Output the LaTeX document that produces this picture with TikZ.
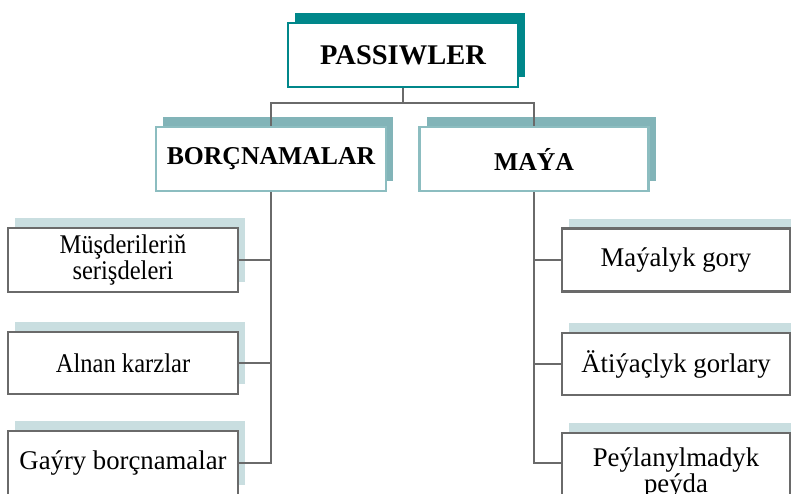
\documentclass[tikz,border=0pt]{standalone}
\usepackage{fontspec}
\setmainfont{Liberation Serif}
\newfontfamily\leaffont[FakeStretch=0.91]{Liberation Serif}
\newfontfamily\leafwide[FakeStretch=0.99]{Liberation Serif}
\usetikzlibrary{shadows}
\definecolor{tealdark}{HTML}{00878A}
\definecolor{teallight}{HTML}{82B4B8}
\definecolor{tealborder}{HTML}{8CBDC0}
\definecolor{leafshadow}{HTML}{C9DEE0}
\definecolor{linegray}{HTML}{6A6A6A}
\begin{document}
\begin{tikzpicture}[x=1pt,y=-1pt,
  topbox/.style={draw=tealdark, line width=2.6pt, fill=white, minimum width=230pt, minimum height=64pt, inner sep=0pt,
    font=\fontsize{28.5}{30}\selectfont\bfseries,
    copy shadow={shadow xshift=7pt, shadow yshift=10pt, fill=tealdark, draw=none}},
  midbox/.style={draw=tealborder, line width=2.6pt, fill=white, minimum width=230pt, minimum height=64pt, inner sep=0pt,
    font=\fontsize{25.7}{28}\selectfont\bfseries,
    copy shadow={shadow xshift=7pt, shadow yshift=10pt, fill=teallight, draw=none}},
  leafbox/.style={draw=linegray, line width=2.3pt, fill=white, minimum width=230pt, minimum height=64pt, inner sep=0pt,
    align=center, font=\leaffont\fontsize{27}{26}\selectfont,
    copy shadow={shadow xshift=7pt, shadow yshift=10pt, fill=leafshadow, draw=none}},
  wide/.style={font=\leafwide\fontsize{27}{26}\selectfont},
  conn/.style={draw=linegray, line width=2.8pt}
]
\useasboundingbox (0,0) rectangle (791,493);
\fill[white] (0,0) rectangle (791,493);
\clip (0,0) rectangle (791,493);

\node[topbox] (top) at (403,55) {PASSIWLER};
\node[midbox] (borc) at (271,159) {BORÇNAMALAR};
\node[midbox, minimum width=229pt] (maya) at (534,159) {MAÝA};

\node[leafbox] (l1) at (123,260) {Müşderileriň\\serişdeleri};
\node[leafbox, minimum height=62pt] (l2) at (123,363) {Alnan karzlar};
\node[leafbox, wide] (l3) at (123,463) {Gaýry borçnamalar};

\node[leafbox, wide, minimum width=228pt, minimum height=63pt] (r1) at (676,260) {Maýalyk gory};
\node[leafbox, wide, minimum width=228pt, minimum height=62pt] (r2) at (676,364) {Ätiýaçlyk gorlary};
\node[leafbox, wide, minimum width=228pt, minimum height=80pt] (r3) at (676,473) {Peýlanylmadyk\\peýda};

\coordinate (split) at (403,103);
\draw[conn] (top.south) -- (split);
\draw[conn] (split) -| (borc.north);
\draw[conn] (split) -| (maya.north);

\draw[conn] (borc.south) |- (l1.east);
\draw[conn] (borc.south) |- (l2.east);
\draw[conn] (borc.south) |- (l3.east);

\draw[conn] (maya.south) |- (r1.west);
\draw[conn] (maya.south) |- (r2.west);
\draw[conn] (maya.south) |- ([yshift=10pt]r3.west);
\end{tikzpicture}
\end{document}
